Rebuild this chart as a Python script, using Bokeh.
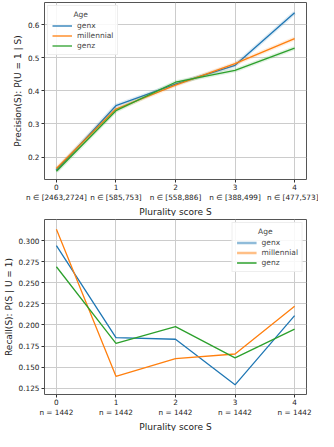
from bokeh.plotting import figure
from bokeh.layouts import column
from bokeh.models import FixedTicker, NumeralTickFormatter, Legend, LegendItem, Range1d, LinearAxis, Title
from bokeh.embed import file_html
from bokeh.resources import INLINE

scores = [0, 1, 2, 3, 4]
groups = ["genx", "millennial", "genz"]
colors = ["#1f77b4", "#ff7f0e", "#2ca02c"]

prec_genx = [0.160, 0.355, 0.420, 0.477, 0.636]
prec_millennial = [0.165, 0.345, 0.417, 0.482, 0.558]
prec_genz = [0.157, 0.340, 0.426, 0.462, 0.529]

rec_genx = [0.294, 0.185, 0.183, 0.129, 0.211]
rec_millennial = [0.3135, 0.139, 0.160, 0.1655, 0.222]
rec_genz = [0.269, 0.178, 0.198, 0.161, 0.195]

prec_n_labels = ["n \u2208 [2463,2724]", "n \u2208 [585,753]", "n \u2208 [558,886]",
                 "n \u2208 [388,499]", "n \u2208 [477,573]"]
rec_n_labels = ["n = 1442"] * 5

prec_yticks = [0.2, 0.3, 0.4, 0.5, 0.6]
rec_yticks = [0.125, 0.150, 0.175, 0.200, 0.225, 0.250, 0.275, 0.300]

x_label = "Plurality score S"

FONT = "DejaVu Sans"
NAN = float("nan")


def base_axis_style(ax):
    ax.major_label_text_font = FONT
    ax.major_label_text_font_size = "7.3px"
    ax.major_label_text_color = "#222222"
    ax.axis_label_text_font = FONT
    ax.axis_label_text_font_size = "9px"
    ax.axis_label_text_font_style = "normal"
    ax.axis_label_text_color = "#222222"
    ax.axis_line_color = None
    ax.major_tick_line_color = "#333333"
    ax.major_tick_out = 3
    ax.major_tick_in = 0
    ax.minor_tick_line_color = None
    ax.major_label_standoff = 2
    ax.axis_label_standoff = 2


def style(p, yticks, fmt, nlabels, ylabel):
    p.xaxis.ticker = FixedTicker(ticks=scores)
    p.yaxis.ticker = FixedTicker(ticks=yticks)
    p.yaxis.formatter = NumeralTickFormatter(format=fmt)
    for ax in (p.xaxis[0], p.yaxis[0]):
        base_axis_style(ax)
    p.xaxis[0].major_label_standoff = 1
    p.yaxis.axis_label = ylabel
    # second row of x labels: sample sizes
    nax = LinearAxis(ticker=FixedTicker(ticks=scores),
                     major_label_overrides={s: lab for s, lab in zip(scores, nlabels)})
    base_axis_style(nax)
    nax.major_tick_out = 0
    nax.major_tick_line_color = None
    nax.major_label_standoff = 0
    p.add_layout(nax, "below")
    p.add_layout(Title(text=x_label, align="center", text_font=FONT, text_font_size="9px",
                       text_font_style="normal", text_color="#222222", standoff=0, offset=0),
                 "below")
    p.outline_line_color = "#555555"
    p.outline_line_width = 1
    p.xgrid.ticker = FixedTicker(ticks=scores)
    p.ygrid.ticker = FixedTicker(ticks=yticks)
    p.grid.grid_line_color = "#cccccc"
    p.grid.grid_line_width = 1
    p.x_range = Range1d(-0.2, 4.2)


# --- top: precision ---
p1 = figure(width=318, height=216, output_backend="svg", toolbar_location=None,
            min_border_top=2, min_border_right=12, min_border_left=4, min_border_bottom=0)
style(p1, prec_yticks, "0.0", prec_n_labels, "Precision(S): P(U = 1 | S)")
p1.y_range = Range1d(0.132, 0.667)
r1 = []
for ys, c in zip([prec_genx, prec_millennial, prec_genz], colors):
    p1.line(scores, ys, line_color=c, line_width=4, line_alpha=0.15)
    r1.append(p1.line(scores, ys, line_color=c, line_width=1.3))
leg1 = Legend(items=[LegendItem(label=g, renderers=[r]) for g, r in zip(groups, r1)],
              location="top_left", title="\u00a0\u00a0\u00a0\u00a0\u00a0\u00a0\u00a0\u00a0\u00a0Age")
p1.add_layout(leg1)

# --- bottom: recall ---
p2 = figure(width=318, height=215, output_backend="svg", toolbar_location=None,
            min_border_top=3, min_border_right=12, min_border_left=4, min_border_bottom=0)
style(p2, rec_yticks, "0.000", rec_n_labels, "Recall(S): P(S | U = 1)")
p2.y_range = Range1d(0.1175, 0.325)
r2 = []
for ys, c in zip([rec_genx, rec_millennial, rec_genz], colors):
    r2.append(p2.line(scores, ys, line_color=c, line_width=1.3))
pale_x = p2.line([NAN], [NAN], line_color=colors[0], line_width=2.5, line_alpha=0.5)
pale_m = p2.line([NAN], [NAN], line_color=colors[1], line_width=2.5, line_alpha=0.5)
leg2 = Legend(items=[LegendItem(label="genx", renderers=[pale_x]),
                     LegendItem(label="millennial", renderers=[pale_m]),
                     LegendItem(label="genz", renderers=[r2[2]])],
              location="top_right", title="\u00a0\u00a0\u00a0\u00a0\u00a0\u00a0\u00a0\u00a0\u00a0Age")
p2.add_layout(leg2)

for leg in (leg1, leg2):
    leg.label_text_font = FONT
    leg.label_text_font_size = "7.5px"
    leg.title_text_font = FONT
    leg.title_text_font_size = "7.5px"
    leg.title_text_font_style = "normal"
    leg.label_height = 9
    leg.glyph_height = 9
    leg.glyph_width = 20
    leg.spacing = 1
    leg.padding = 4
    leg.margin = 3
    leg.label_standoff = 5
    leg.border_line_color = "#dddddd"
    leg.background_fill_alpha = 0.85
    leg.title_standoff = 2

layout = column(p1, p2)
open("out.html", "w").write(file_html(layout, INLINE))
